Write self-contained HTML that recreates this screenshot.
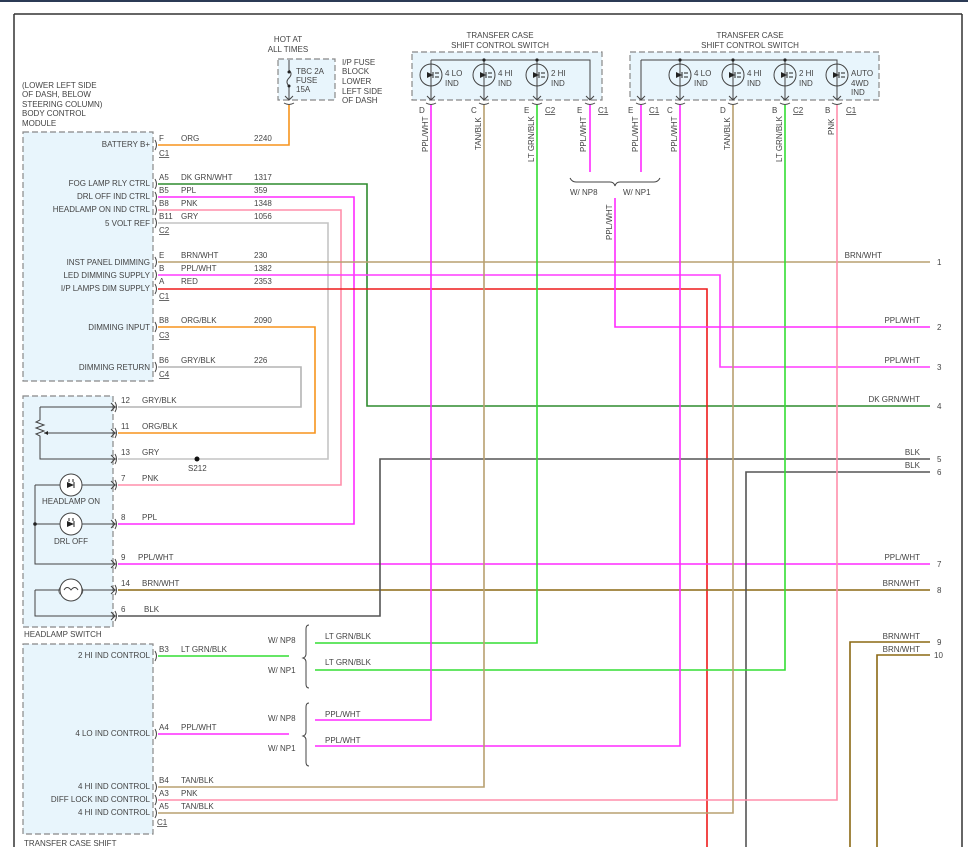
<!DOCTYPE html>
<html><head><meta charset="utf-8"><style>
html,body{margin:0;padding:0;background:#fff}
svg{display:block}
text{font-family:"Liberation Sans",sans-serif;font-size:8px;fill:#444}
.w{fill:none;stroke-width:1.6}
.box{fill:#e8f5fc;stroke:#888;stroke-dasharray:6,3;stroke-width:1.2}
.k{fill:none;stroke:#444;stroke-width:1}
</style></head><body>
<svg width="968" height="847" viewBox="0 0 968 847" xmlns="http://www.w3.org/2000/svg">
<defs>
<g id="led"><circle r="11" fill="none" stroke="#444" stroke-width="1"/><path d="M-4,-3 L2,0 L-4,3Z" fill="#222"/><line x1="2" y1="-3" x2="2" y2="3" stroke="#222"/><path d="M4,-2h4M4,2h4" stroke="#222" stroke-width="1"/></g>
<g id="lamp"><circle r="11" fill="#fff" stroke="#444"/><path d="M-2,-6v3M2,-6v3" stroke="#222"/><path d="M-4,0 L3,3 L-4,6Z" fill="#222" transform="translate(0,-3)"/><line x1="3" y1="-3" x2="3" y2="3" stroke="#222"/></g>
</defs>
<rect x="0" y="0" width="968" height="2" fill="#2b3a55"/>
<line x1="14" y1="14" x2="962" y2="14" stroke="#333" stroke-width="1.5"/>
<line x1="14" y1="14" x2="14" y2="847" stroke="#333" stroke-width="1.5"/>
<line x1="962" y1="14" x2="962" y2="847" stroke="#333" stroke-width="1.5"/>

<rect class="box" x="23" y="132" width="130" height="249"/>
<rect class="box" x="23" y="396" width="90" height="231"/>
<rect class="box" x="23" y="644" width="130" height="190"/>
<rect class="box" x="278" y="59" width="57" height="41"/>
<rect class="box" x="412" y="52" width="190" height="48"/>
<rect class="box" x="630" y="52" width="249" height="48"/>

<text x="22" y="88">(LOWER LEFT SIDE</text><text x="22" y="97">OF DASH, BELOW</text><text x="22" y="107">STEERING COLUMN)</text><text x="22" y="116">BODY CONTROL</text><text x="22" y="126">MODULE</text>
<text x="288" y="42" text-anchor="middle">HOT AT</text><text x="288" y="52" text-anchor="middle">ALL TIMES</text>
<text x="342" y="65">I/P FUSE</text><text x="342" y="74">BLOCK</text><text x="342" y="84">LOWER</text><text x="342" y="94">LEFT SIDE</text><text x="342" y="103">OF DASH</text>
<text x="296" y="74">TBC 2A</text><text x="296" y="83">FUSE</text><text x="296" y="92">15A</text>
<path d="M289,60V70 q4,4 0,8 q-4,4 0,8 V100 M285,96 l4,4 l4,-4" class="k"/><circle cx="289" cy="72" r="1.5" fill="#222"/><circle cx="289" cy="86" r="1.5" fill="#222"/>
<text x="500" y="38" text-anchor="middle">TRANSFER CASE</text><text x="500" y="48" text-anchor="middle">SHIFT CONTROL SWITCH</text>
<text x="750" y="38" text-anchor="middle">TRANSFER CASE</text><text x="750" y="48" text-anchor="middle">SHIFT CONTROL SWITCH</text>

<path class="k" d="M431,60H590V100M431,60V100M484,60V100M537,60V100"/>
<path class="k" d="M641,60H837V100M641,60V100M680,60V100M733,60V100M785,60V100"/>
<path class="k" d="M427,96l4,4 4,-4M480,96l4,4 4,-4M533,96l4,4 4,-4M586,96l4,4 4,-4M637,96l4,4 4,-4M676,96l4,4 4,-4M729,96l4,4 4,-4M781,96l4,4 4,-4M833,96l4,4 4,-4"/>
<g fill="#222"><circle cx="484" cy="60" r="1.6"/><circle cx="537" cy="60" r="1.6"/><circle cx="680" cy="60" r="1.6"/><circle cx="733" cy="60" r="1.6"/><circle cx="785" cy="60" r="1.6"/></g>
<use href="#led" x="431" y="75"/><use href="#led" x="484" y="75"/><use href="#led" x="537" y="75"/>
<use href="#led" x="680" y="75"/><use href="#led" x="733" y="75"/><use href="#led" x="785" y="75"/><use href="#led" x="837" y="75"/>
<text x="445" y="76">4 LO</text><text x="445" y="86">IND</text><text x="498" y="76">4 HI</text><text x="498" y="86">IND</text><text x="551" y="76">2 HI</text><text x="551" y="86">IND</text>
<text x="694" y="76">4 LO</text><text x="694" y="86">IND</text><text x="747" y="76">4 HI</text><text x="747" y="86">IND</text><text x="799" y="76">2 HI</text><text x="799" y="86">IND</text><text x="851" y="76">AUTO</text><text x="851" y="86">4WD</text><text x="851" y="95">IND</text>
<text x="419" y="113">D</text><text x="471" y="113">C</text><text x="524" y="113">E</text><text x="545" y="113" text-decoration="underline">C2</text><text x="577" y="113">E</text><text x="598" y="113" text-decoration="underline">C1</text>
<text x="628" y="113">E</text><text x="649" y="113" text-decoration="underline">C1</text><text x="667" y="113">C</text><text x="720" y="113">D</text><text x="772" y="113">B</text><text x="793" y="113" text-decoration="underline">C2</text><text x="825" y="113">B</text><text x="846" y="113" text-decoration="underline">C1</text>
<g>
<text transform="translate(428,152) rotate(-90)">PPL/WHT</text>
<text transform="translate(481,150) rotate(-90)">TAN/BLK</text>
<text transform="translate(534,162) rotate(-90)">LT GRN/BLK</text>
<text transform="translate(586,152) rotate(-90)">PPL/WHT</text>
<text transform="translate(638,152) rotate(-90)">PPL/WHT</text>
<text transform="translate(677,152) rotate(-90)">PPL/WHT</text>
<text transform="translate(730,150) rotate(-90)">TAN/BLK</text>
<text transform="translate(782,162) rotate(-90)">LT GRN/BLK</text>
<text transform="translate(834,135) rotate(-90)">PNK</text>
<text transform="translate(612,240) rotate(-90)">PPL/WHT</text>
</g>
<path class="k" d="M570,178 q2,4 6,4 h34 q4,0 5,4 q1,-4 5,-4 h34 q4,0 6,-4" stroke="#666"/>
<text x="570" y="195">W/ NP8</text><text x="623" y="195">W/ NP1</text>

<g text-anchor="end">
<text x="150" y="147">BATTERY B+</text><text x="150" y="186">FOG LAMP RLY CTRL</text><text x="150" y="199">DRL OFF IND CTRL</text><text x="150" y="212">HEADLAMP ON IND CTRL</text><text x="150" y="226">5 VOLT REF</text>
<text x="150" y="265">INST PANEL DIMMING</text><text x="150" y="278">LED DIMMING SUPPLY</text><text x="150" y="291">I/P LAMPS DIM SUPPLY</text>
<text x="150" y="330">DIMMING INPUT</text><text x="150" y="370">DIMMING RETURN</text>
<text x="150" y="658">2 HI IND CONTROL</text><text x="150" y="736">4 LO IND CONTROL</text>
<text x="150" y="789">4 HI IND CONTROL</text><text x="150" y="802">DIFF LOCK IND CONTROL</text><text x="150" y="815">4 HI IND CONTROL</text>
</g>
<g>
<text x="159" y="141">F</text><text x="181" y="141">ORG</text><text x="254" y="141">2240</text><text x="159" y="156" text-decoration="underline">C1</text>
<text x="159" y="180">A5</text><text x="181" y="180">DK GRN/WHT</text><text x="254" y="180">1317</text>
<text x="159" y="193">B5</text><text x="181" y="193">PPL</text><text x="254" y="193">359</text>
<text x="159" y="206">B8</text><text x="181" y="206">PNK</text><text x="254" y="206">1348</text>
<text x="159" y="219">B11</text><text x="181" y="219">GRY</text><text x="254" y="219">1056</text>
<text x="159" y="233" text-decoration="underline">C2</text>
<text x="159" y="258">E</text><text x="181" y="258">BRN/WHT</text><text x="254" y="258">230</text>
<text x="159" y="271">B</text><text x="181" y="271">PPL/WHT</text><text x="254" y="271">1382</text>
<text x="159" y="284">A</text><text x="181" y="284">RED</text><text x="254" y="284">2353</text>
<text x="159" y="299" text-decoration="underline">C1</text>
<text x="159" y="323">B8</text><text x="181" y="323">ORG/BLK</text><text x="254" y="323">2090</text><text x="159" y="338" text-decoration="underline">C3</text>
<text x="159" y="363">B6</text><text x="181" y="363">GRY/BLK</text><text x="254" y="363">226</text><text x="159" y="377" text-decoration="underline">C4</text>
<text x="121" y="403">12</text><text x="142" y="403">GRY/BLK</text>
<text x="121" y="429">11</text><text x="142" y="429">ORG/BLK</text>
<text x="121" y="455">13</text><text x="142" y="455">GRY</text><text x="188" y="471">S212</text>
<text x="121" y="481">7</text><text x="142" y="481">PNK</text>
<text x="121" y="520">8</text><text x="142" y="520">PPL</text>
<text x="121" y="560">9</text><text x="138" y="560">PPL/WHT</text>
<text x="121" y="586">14</text><text x="142" y="586">BRN/WHT</text>
<text x="121" y="612">6</text><text x="144" y="612">BLK</text>
<text x="24" y="637">HEADLAMP SWITCH</text>
<text x="159" y="652">B3</text><text x="181" y="652">LT GRN/BLK</text>
<text x="159" y="730">A4</text><text x="181" y="730">PPL/WHT</text>
<text x="159" y="783">B4</text><text x="181" y="783">TAN/BLK</text>
<text x="159" y="796">A3</text><text x="181" y="796">PNK</text>
<text x="159" y="809">A5</text><text x="181" y="809">TAN/BLK</text>
<text x="157" y="825" text-decoration="underline">C1</text>
<text x="24" y="846">TRANSFER CASE SHIFT</text>
<text x="268" y="643">W/ NP8</text><text x="268" y="673">W/ NP1</text>
<text x="268" y="721">W/ NP8</text><text x="268" y="751">W/ NP1</text>
<text x="325" y="639">LT GRN/BLK</text><text x="325" y="665">LT GRN/BLK</text>
<text x="325" y="717">PPL/WHT</text><text x="325" y="743">PPL/WHT</text>
</g>
<path class="k" stroke="#666" d="M309,625 q-3,0 -3,4 v25 q0,3 -3,4 q3,1 3,4 v22 q0,4 3,4"/>
<path class="k" stroke="#666" d="M309,703 q-3,0 -3,4 v25 q0,3 -3,4 q3,1 3,4 v22 q0,4 3,4"/>
<g text-anchor="end">
<text x="882" y="258">BRN/WHT</text><text x="920" y="323">PPL/WHT</text><text x="920" y="363">PPL/WHT</text><text x="920" y="402">DK GRN/WHT</text>
<text x="920" y="455">BLK</text><text x="920" y="468">BLK</text><text x="920" y="560">PPL/WHT</text><text x="920" y="586">BRN/WHT</text><text x="920" y="639">BRN/WHT</text><text x="920" y="652">BRN/WHT</text>
</g>
<g><text x="937" y="265">1</text><text x="937" y="330">2</text><text x="937" y="370">3</text><text x="937" y="409">4</text><text x="937" y="462">5</text><text x="937" y="475">6</text><text x="937" y="567">7</text><text x="937" y="593">8</text><text x="937" y="645">9</text><text x="934" y="658">10</text></g>

<path class="k" d="M40,407H116M40,407V420 l-4,2 8,3 -8,3 8,3 -8,3 4,2V459H116M44,433H116M35,485H116M35,485V564H116M35,524H116M35,590H116M35,590V616H116"/>
<path class="k" d="M111,403l4,4 -4,4M111,429l4,4 -4,4M111,455l4,4 -4,4M111,481l4,4 -4,4M111,520l4,4 -4,4M111,560l4,4 -4,4M111,586l4,4 -4,4M111,612l4,4 -4,4"/>
<path d="M44,433 l4,-2 v4z" fill="#222"/>
<circle cx="35" cy="524" r="1.8" fill="#222"/>
<use href="#lamp" x="71" y="485"/><use href="#lamp" x="71" y="524"/>
<text x="71" y="504" text-anchor="middle">HEADLAMP ON</text><text x="71" y="544" text-anchor="middle">DRL OFF</text>
<circle cx="71" cy="590" r="11" fill="#fff" stroke="#444"/><path d="M64,590 q3,-5 7,0 q4,-5 7,0" class="k"/><text x="58" y="593">(</text><text x="81" y="593">)</text>

<g class="w">
<path stroke="#f7941d" d="M158,145H289V105"/>
<path stroke="#2e8b2e" d="M158,184H367V406H930"/>
<path stroke="#ff2bff" d="M158,197H354V524H118"/>
<path stroke="#ff8fab" d="M158,210H341V485H118"/>
<path stroke="#c4c4c4" d="M158,223H328V459H118"/>
<path stroke="#b8a070" d="M158,262H930"/>
<path stroke="#ff3bff" d="M158,275H720V367H930"/>
<path stroke="#ee1c1c" d="M158,289H707V847"/>
<path stroke="#f7941d" d="M118,433H315V327H158"/>
<path stroke="#b4b4b4" d="M118,407H301V367H158"/>
<path stroke="#ff2bff" d="M118,564H930"/>
<path stroke="#8b6914" d="M118,590H930"/>
<path stroke="#555" d="M118,616H380V459H930"/>
<path stroke="#555" d="M746,847V472H930"/>
<path stroke="#33dd33" d="M158,656H289"/>
<path stroke="#33dd33" d="M315,643H537V105"/>
<path stroke="#33dd33" d="M315,670H785V105"/>
<path stroke="#ff2bff" d="M158,734H289"/>
<path stroke="#ff2bff" d="M315,720H431V105"/>
<path stroke="#ff2bff" d="M315,746H680V105"/>
<path stroke="#b8a070" d="M158,787H484V105"/>
<path stroke="#ff8fab" d="M158,800H837V105"/>
<path stroke="#b8a070" d="M158,813H733V105"/>
<path stroke="#ff2bff" d="M590,105V172M641,105V172"/>
<path stroke="#ff2bff" d="M615,198V327H930"/>
<path stroke="#8b6914" d="M850,847V642H930M877,847V655H930"/>
</g>
<circle cx="197" cy="459" r="2.5" fill="#111"/>
<g class="k" stroke="#333">
<path d="M155,140 q3,5 0,10M155,179 q3,5 0,10M155,192 q3,5 0,10M155,205 q3,5 0,10M155,218 q3,5 0,10M155,257 q3,5 0,10M155,270 q3,5 0,10M155,284 q3,5 0,10M155,322 q3,5 0,10M155,362 q3,5 0,10"/>
<path d="M115,402 q3,5 0,10M115,428 q3,5 0,10M115,454 q3,5 0,10M115,480 q3,5 0,10M115,519 q3,5 0,10M115,559 q3,5 0,10M115,585 q3,5 0,10M115,611 q3,5 0,10"/>
<path d="M155,651 q3,5 0,10M155,729 q3,5 0,10M155,782 q3,5 0,10M155,795 q3,5 0,10M155,808 q3,5 0,10"/>
<path d="M284,103 q5,3 10,0M426,103 q5,3 10,0M479,103 q5,3 10,0M532,103 q5,3 10,0M585,103 q5,3 10,0M636,103 q5,3 10,0M675,103 q5,3 10,0M728,103 q5,3 10,0M780,103 q5,3 10,0M832,103 q5,3 10,0"/>
</g>
</svg>
</body></html>
